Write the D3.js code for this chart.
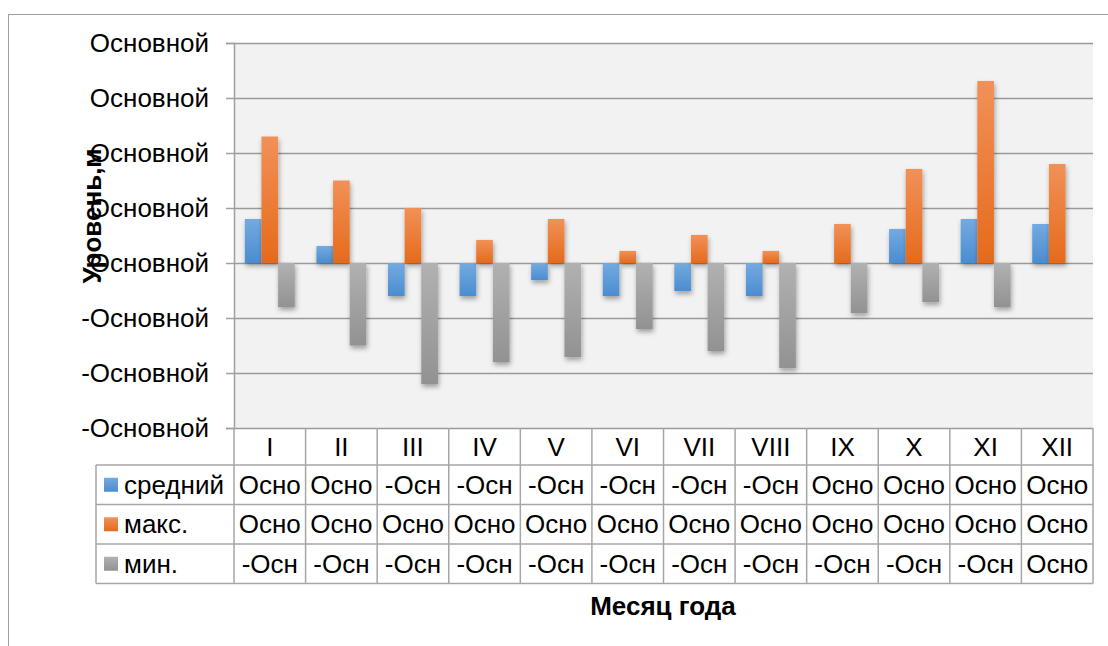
<!DOCTYPE html>
<html>
<head>
<meta charset="utf-8">
<script src="https://d3js.org/d3.v7.min.js"></script>
<style>
  body { margin: 0; background: #fff; }
  svg { font-family: "Liberation Sans", Arial, sans-serif; }
</style>
</head>
<body>
<script>
var months = ['I', 'II', 'III', 'IV', 'V', 'VI', 'VII', 'VIII', 'IX', 'X', 'XI', 'XII'];
var seriesNames = ['средний', 'макс.', 'мин.'];
var avgLevel = [0.4, 0.155, -0.3, -0.3, -0.155, -0.3, -0.255, -0.3, 0, 0.31, 0.4, 0.355];
var maxLevel = [1.15, 0.75, 0.5, 0.21, 0.4, 0.11, 0.255, 0.11, 0.355, 0.855, 1.655, 0.9];
var minLevel = [-0.4, -0.75, -1.1, -0.9, -0.855, -0.6, -0.8, -0.955, -0.455, -0.355, -0.4, 0];
var yTicks = [-1.5, -1, -0.5, 0, 0.5, 1, 1.5, 2];
var tickText = 'Основной';

var colors = {
    'средний': ['#74aadf', '#4a8dd1'],
    'макс.': ['#f19158', '#e66a1b'],
    'мин.': ['#b1b1b1', '#929292']
};
var values = [avgLevel, maxLevel, minLevel];

var width = 1108, height = 646;
var plotLeft = 234, plotRight = 1093, plotTop = 43, plotBottom = 428;
var tableLeft = 96, headerH = 37, rowH = 39.5;

var svg = d3.select('body').append('svg').attr('width', width).attr('height', height);
var defs = svg.append('defs');

seriesNames.forEach(function (s, i) {
    var g = defs.append('linearGradient').attr('id', 'grad' + i)
        .attr('x1', 0).attr('y1', 0).attr('x2', 0).attr('y2', 1);
    g.append('stop').attr('offset', '0%').attr('stop-color', colors[s][0]);
    g.append('stop').attr('offset', '100%').attr('stop-color', colors[s][1]);
});

var shadow = defs.append('filter').attr('id', 'shadow')
    .attr('x', '-50%').attr('y', '-50%').attr('width', '200%').attr('height', '200%');
shadow.append('feDropShadow').attr('dx', 1).attr('dy', 3).attr('stdDeviation', 2.5)
    .attr('flood-color', '#000').attr('flood-opacity', 0.35);

// outer chart border
svg.append('rect').attr('x', 8.5).attr('y', 14.5).attr('width', 1120).attr('height', 660)
    .attr('fill', '#fff').attr('stroke', '#a0a0a0');

var y = d3.scaleLinear().domain([-1.5, 2]).range([plotBottom, plotTop]);
var x = d3.scaleBand().domain(months).range([plotLeft, plotRight]);
var gap = x.bandwidth() / (3 + 1.3) * 0.65;
var xs = d3.scaleBand().domain(seriesNames).range([gap, x.bandwidth() - gap]);

// plot background
svg.append('rect').attr('x', plotLeft).attr('y', plotTop)
    .attr('width', plotRight - plotLeft).attr('height', plotBottom - plotTop)
    .attr('fill', '#f2f2f2');

// gridlines
svg.append('g')
    .attr('transform', 'translate(' + plotLeft + ',0)')
    .call(d3.axisLeft(y).tickValues(yTicks).tickSize(-(plotRight - plotLeft)).tickFormat(''))
    .call(function (g) {
        g.select('.domain').remove();
        g.selectAll('line').attr('stroke', '#9a9a9a').attr('stroke-width', 1.5);
    });

// y axis
svg.append('g')
    .attr('transform', 'translate(' + plotLeft + ',0)')
    .call(d3.axisLeft(y).tickValues(yTicks).tickSize(8).tickPadding(17)
        .tickFormat(function (d) { return d < 0 ? '-' + tickText : tickText; }))
    .call(function (g) {
        g.select('.domain').attr('stroke', '#a0a0a0').attr('stroke-width', 1.5);
        g.selectAll('line').attr('stroke', '#a0a0a0').attr('stroke-width', 1.5);
        g.selectAll('text').attr('font-size', 26).attr('fill', '#000')
            .attr('font-family', '"Liberation Sans", Arial, sans-serif');
    });

// bars
seriesNames.forEach(function (s, i) {
    svg.append('g').selectAll('rect')
        .data(values[i])
        .enter()
        .append('rect')
        .attr('x', function (d, j) { return x(months[j]) + xs(s); })
        .attr('y', function (d) { return y(Math.max(0, d)); })
        .attr('width', xs.bandwidth())
        .attr('height', function (d) { return Math.abs(y(d) - y(0)); })
        .attr('fill', 'url(#grad' + i + ')')
        .attr('filter', function (d) { return d === 0 ? null : 'url(#shadow)'; });
});

// data table
var table = svg.append('g');
var rowTop = function (r) { return plotBottom + headerH + r * rowH; };
var lineColor = '#a6a6a6';

table.selectAll('text.month')
    .data(months)
    .enter()
    .append('text')
    .attr('x', function (d) { return x(d) + x.bandwidth() / 2; })
    .attr('y', plotBottom + headerH / 2)
    .attr('dy', '0.35em')
    .attr('text-anchor', 'middle')
    .attr('font-size', 26)
    .text(function (d) { return d; });

seriesNames.forEach(function (s, i) {
    var cy = rowTop(i) + rowH / 2;
    table.append('rect').attr('x', 104).attr('y', cy - 7).attr('width', 14).attr('height', 14)
        .attr('fill', 'url(#grad' + i + ')');
    table.append('text').attr('x', 124).attr('y', cy).attr('dy', '0.35em')
        .attr('font-size', 26).text(s);
    table.append('g').selectAll('text')
        .data(values[i])
        .enter()
        .append('text')
        .attr('x', function (d, j) { return x(months[j]) + x.bandwidth() / 2; })
        .attr('y', cy)
        .attr('dy', '0.35em')
        .attr('text-anchor', 'middle')
        .attr('font-size', 26)
        .text(function (d) { return d < 0 ? '-Осн' : 'Осно'; });
});

// table lines
var hLines = [0, 1, 2, 3];
table.selectAll('line.h')
    .data(hLines)
    .enter()
    .append('line')
    .attr('x1', tableLeft).attr('x2', plotRight)
    .attr('y1', function (d) { return rowTop(d); })
    .attr('y2', function (d) { return rowTop(d); })
    .attr('stroke', lineColor).attr('stroke-width', 1.5);
table.append('line').attr('x1', tableLeft).attr('x2', tableLeft)
    .attr('y1', rowTop(0)).attr('y2', rowTop(3))
    .attr('stroke', lineColor).attr('stroke-width', 1.5);
table.selectAll('line.v')
    .data(months.concat(['end']))
    .enter()
    .append('line')
    .attr('x1', function (d) { return d === 'end' ? plotRight : x(d); })
    .attr('x2', function (d) { return d === 'end' ? plotRight : x(d); })
    .attr('y1', plotBottom).attr('y2', rowTop(3))
    .attr('stroke', lineColor).attr('stroke-width', 1.5);

// axis titles
svg.append('text')
    .attr('transform', 'translate(101,216) rotate(-90)')
    .attr('text-anchor', 'middle')
    .attr('font-size', 26).attr('font-weight', 'bold')
    .text('Уровень,м');

svg.append('text')
    .attr('x', 663).attr('y', 615)
    .attr('text-anchor', 'middle')
    .attr('font-size', 26).attr('font-weight', 'bold')
    .text('Месяц года');
</script>
</body>
</html>
